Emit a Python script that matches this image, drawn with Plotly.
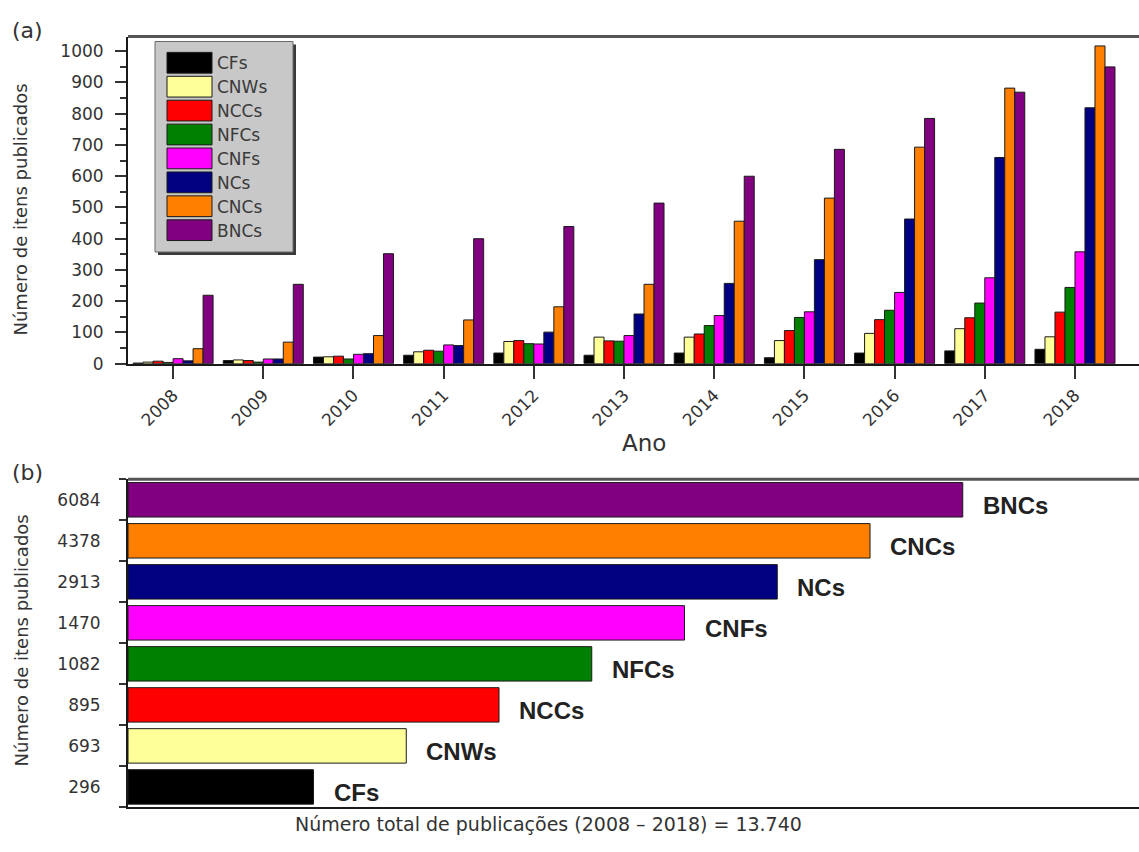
import plotly.graph_objects as go

W, H = 1139, 852

# ---- data -------------------------------------------------------------
years = ["2008", "2009", "2010", "2011", "2012", "2013",
         "2014", "2015", "2016", "2017", "2018"]
series_names = ["CFs", "CNWs", "NCCs", "NFCs", "CNFs", "NCs", "CNCs", "BNCs"]
series_colors = ["#000000", "#ffff99", "#ff0000", "#008000",
                 "#ff00ff", "#000080", "#ff8000", "#800080"]

cfs  = [2, 10, 21, 27, 34, 27, 34, 19, 34, 41, 46]
cnws = [5, 12, 22, 38, 71, 85, 85, 74, 97, 112, 86]
nccs = [8, 10, 24, 43, 74, 73, 95, 106, 141, 147, 165]
nfcs = [4, 5, 15, 40, 64, 72, 122, 148, 171, 194, 244]
cnfs = [16, 15, 30, 60, 63, 90, 154, 166, 228, 275, 358]
ncs  = [9, 15, 32, 58, 101, 159, 257, 333, 463, 660, 819]
cncs = [48, 69, 90, 140, 182, 254, 456, 530, 693, 882, 1017]
bncs = [219, 254, 352, 400, 439, 514, 600, 686, 785, 869, 950]
yearly = [cfs, cnws, nccs, nfcs, cnfs, ncs, cncs, bncs]

totals = [296, 693, 895, 1082, 1470, 2913, 4378, 6084]
total_caption = "Número total de publicações (2008 – 2018) = 13.740"

# panel (b) bars are laid out by rank of the totals
ranked = sorted(totals)
bar_rank = [ranked.index(t) + 2 for t in totals]
total_labels = [str(t) for t in totals]

FONT = "DejaVu Sans, sans-serif"
BOLD = "Liberation Sans, Arial, sans-serif"
TXT = "#333333"


def px(x):
    return x / W


def py(y):
    return 1 - y / H


fig = go.Figure()

# ---- panel (a): yearly grouped bars ----------------------------------
for name, color, vals in zip(series_names, series_colors, yearly):
    fig.add_trace(go.Bar(
        x=years, y=vals, name=name, marker_color=color,
        marker_line=dict(color="#1a1a1a", width=1),
        xaxis="x", yaxis="y", showlegend=False,
    ))

# ---- panel (b): totals ------------------------------------------------
fig.add_trace(go.Bar(
    x=bar_rank, y=total_labels, orientation="h",
    marker_color=series_colors,
    marker_line=dict(color="#1a1a1a", width=1),
    width=0.84, xaxis="x2", yaxis="y2", showlegend=False,
))

annotations = []
for i, (name, r) in enumerate(zip(series_names, bar_rank)):
    annotations.append(dict(
        x=r, y=i, xref="x2", yref="y2", text=f"<b>{name}</b>",
        showarrow=False, xanchor="left", yanchor="middle",
        xshift=18, yshift=-6, font=dict(family=BOLD, size=24, color="#222222"),
    ))

# panel letters and axis titles
annotations += [
    dict(x=px(10), y=py(31), xref="paper", yref="paper", text="(a)",
         showarrow=False, xanchor="left", yanchor="middle",
         font=dict(family=FONT, size=22, color=TXT)),
    dict(x=px(10), y=py(478), xref="paper", yref="paper", text="(b)",
         showarrow=False, xanchor="left", yanchor="middle",
         font=dict(family=FONT, size=22, color=TXT)),
    dict(x=px(21), y=py(212), xref="paper", yref="paper",
         text="Número de itens publicados", textangle=-90, showarrow=False,
         xanchor="center", yanchor="middle",
         font=dict(family=FONT, size=18, color=TXT)),
    dict(x=px(21), y=py(648), xref="paper", yref="paper",
         text="Número de itens publicados", textangle=-90, showarrow=False,
         xanchor="center", yanchor="middle",
         font=dict(family=FONT, size=18, color=TXT)),
    dict(x=px(644), y=py(448), xref="paper", yref="paper", text="Ano",
         showarrow=False, xanchor="center", yanchor="middle",
         font=dict(family=FONT, size=23, color=TXT)),
    dict(x=px(548), y=py(834), xref="paper", yref="paper", text=total_caption,
         showarrow=False, xanchor="center", yanchor="middle",
         font=dict(family=FONT, size=19, color=TXT)),
]

# ---- hand-drawn legend box for panel (a) -----------------------------
shapes = []
lx0, ly0, lx1, ly1 = 155, 42, 293, 255
shapes.append(dict(type="rect", xref="paper", yref="paper",
                   x0=px(lx0 + 3), y0=py(ly1 + 3), x1=px(lx1 + 3), y1=py(ly0 + 3),
                   fillcolor="#3a3a3a", line=dict(width=0)))
shapes.append(dict(type="rect", xref="paper", yref="paper",
                   x0=px(lx0), y0=py(ly1), x1=px(lx1), y1=py(ly0),
                   fillcolor="#c8c8c8", line=dict(color="#6a6a6a", width=1)))
row_h = 24.2
for i, (name, color) in enumerate(zip(series_names, series_colors)):
    top = 53 + i * row_h
    shapes.append(dict(type="rect", xref="paper", yref="paper",
                       x0=px(167), y0=py(top + 21), x1=px(212), y1=py(top),
                       fillcolor=color, line=dict(color="#1a1a1a", width=1)))
    annotations.append(dict(
        x=px(215), y=py(top + 11), xref="paper", yref="paper", text=name,
        showarrow=False, xanchor="left", yanchor="middle",
        font=dict(family=FONT, size=17, color="#3a3a3a")))

# top frame lines of both panels
shapes.append(dict(type="line", xref="paper", yref="paper",
                   x0=px(128), x1=1, y0=py(37), y1=py(37),
                   line=dict(color="#555555", width=3)))
shapes.append(dict(type="line", xref="paper", yref="paper",
                   x0=px(128), x1=1, y0=py(485), y1=py(485),
                   line=dict(color="#555555", width=3)))

fig.update_layout(
    width=W, height=H,
    margin=dict(l=0, r=0, t=0, b=0),
    paper_bgcolor="white", plot_bgcolor="white",
    barmode="group", bargap=0.113, bargroupgap=0,
    font=dict(family=FONT, color=TXT),
    xaxis=dict(
        domain=[px(128), 1], anchor="y", type="category",
        range=[-0.5, 10.71], tickangle=-45,
        ticks="outside", ticklen=13, tickwidth=2, tickcolor="#333333",
        showline=True, linecolor="#1a1a1a", linewidth=2,
        showgrid=False, zeroline=False,
        tickfont=dict(family=FONT, size=17, color=TXT),
    ),
    yaxis=dict(
        domain=[py(368), py(37)], anchor="x", range=[0, 1047],
        tickmode="array", tickvals=list(range(0, 1001, 100)),
        ticks="outside", ticklen=11, tickwidth=2, tickcolor="#333333",
        minor=dict(tickvals=list(range(50, 1001, 100)), ticks="outside",
                   ticklen=6, tickwidth=2, tickcolor="#333333"),
        showline=True, linecolor="#1a1a1a", linewidth=2,
        showgrid=False, zeroline=False, ticklabelstandoff=8,
        tickfont=dict(family=FONT, size=17, color=TXT),
    ),
    xaxis2=dict(
        domain=[px(128), 1], anchor="y2", range=[0, 10.9],
        showticklabels=False, ticks="",
        showline=True, linecolor="#1a1a1a", linewidth=2,
        showgrid=False, zeroline=False,
    ),
    yaxis2=dict(
        domain=[py(817), py(485)], anchor="x2", type="category",
        range=[-0.5, 7.5], tickson="boundaries",
        ticks="outside", ticklen=7, tickwidth=2, tickcolor="#333333",
        showline=True, linecolor="#1a1a1a", linewidth=2,
        showgrid=False, zeroline=False, ticklabelstandoff=22,
        tickfont=dict(family=FONT, size=17, color=TXT),
    ),
    annotations=annotations,
    shapes=shapes,
)

fig.write_html("out.html")
